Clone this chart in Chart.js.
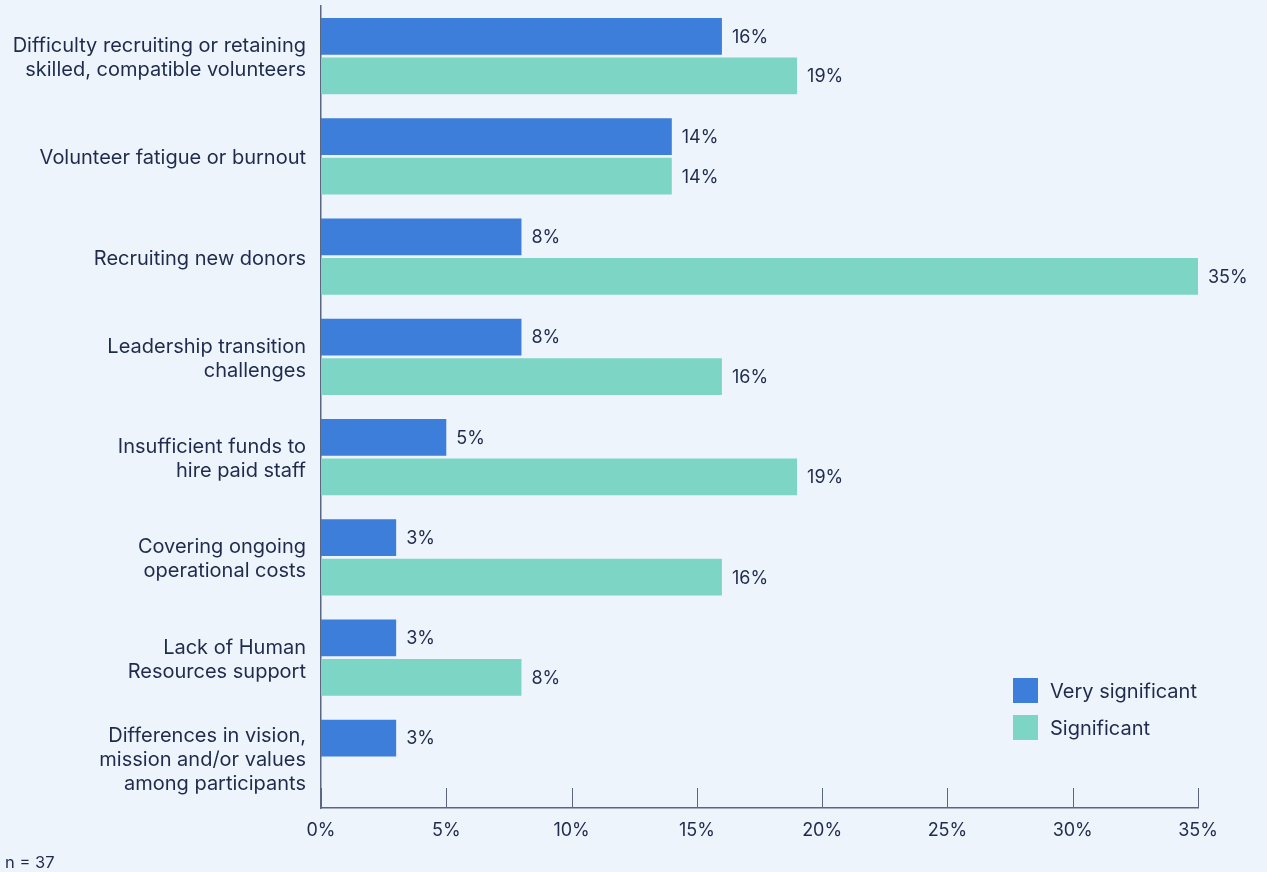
<!DOCTYPE html>
<html lang="en">
<head>
<meta charset="utf-8">
<title>Challenges faced</title>
<script src="https://cdn.jsdelivr.net/npm/chart.js@4.4.1/dist/chart.umd.min.js"></script>
<style>
    html, body {
        margin: 0;
        padding: 0;
        background: #eef4fc;
    }
    .chart-wrap {
        position: relative;
        width: 1267px;
        height: 872px;
    }
    .sample-note {
        position: absolute;
        left: 5px;
        top: 852px;
        font: 16.5px Inter, "Noto Sans", sans-serif;
        color: #1f2b4d;
    }
</style>
</head>
<body>
<div class="chart-wrap">
    <canvas id="challenges-chart" width="1267" height="872"></canvas>
    <div class="sample-note">n = 37</div>
</div>
<script>
// Challenges rated by respondents (percent of organisations)
const categories = [
    ['Difficulty recruiting or retaining', 'skilled, compatible volunteers'],
    'Volunteer fatigue or burnout',
    'Recruiting new donors',
    ['Leadership transition', 'challenges'],
    ['Insufficient funds to', 'hire paid staff'],
    ['Covering ongoing', 'operational costs'],
    ['Lack of Human', 'Resources support'],
    ['Differences in vision,', 'mission and/or values', 'among participants']
];
const verySignificant = [16, 14, 8, 8, 5, 3, 3, 3];
const significant = [19, 14, 35, 16, 19, 16, 8, null];
const xTicks = [0, 5, 10, 15, 20, 25, 30, 35];

const TEXT_COLOR = '#1f2b4d';
const AXIS_COLOR = '#5b6682';
const FONT_FAMILY = 'Inter, "Noto Sans", sans-serif';

document.addEventListener('DOMContentLoaded', function() {
    initChallengesChart();
});

// Short tick marks that point up from the x axis into the plot
const innerTicksPlugin = {
    id: 'innerTicks',
    afterDraw(chart) {
        const ctx = chart.ctx;
        const x = chart.scales.x;
        const bottom = chart.chartArea.bottom;
        ctx.save();
        ctx.strokeStyle = AXIS_COLOR;
        ctx.lineWidth = 1;
        xTicks.forEach(v => {
            const px = Math.round(x.getPixelForValue(v)) + 0.5;
            ctx.beginPath();
            ctx.moveTo(px, bottom);
            ctx.lineTo(px, bottom - 20);
            ctx.stroke();
        });
        ctx.restore();
    }
};

// Category names, right aligned against the y axis (multi-line)
const categoryLabelsPlugin = {
    id: 'categoryLabels',
    afterDraw(chart) {
        const ctx = chart.ctx;
        const y = chart.scales.y;
        const right = chart.chartArea.left - 15;
        const lineH = 24;
        ctx.save();
        ctx.font = '20px ' + FONT_FAMILY;
        ctx.fillStyle = TEXT_COLOR;
        ctx.textAlign = 'right';
        ctx.textBaseline = 'middle';
        chart.data.labels.forEach((label, i) => {
            const lines = Array.isArray(label) ? label : [label];
            const cy = y.getPixelForValue(i) + 2;
            const start = cy - (lines.length - 1) * lineH / 2;
            lines.forEach((line, k) => {
                ctx.fillText(line, right, start + k * lineH);
            });
        });
        ctx.restore();
    }
};

// Percent labels at the end of each bar
const valueLabelsPlugin = {
    id: 'valueLabels',
    afterDatasetsDraw(chart) {
        const ctx = chart.ctx;
        ctx.save();
        ctx.font = '18px ' + FONT_FAMILY;
        ctx.fillStyle = TEXT_COLOR;
        ctx.textAlign = 'left';
        ctx.textBaseline = 'middle';
        chart.data.datasets.forEach((ds, i) => {
            const meta = chart.getDatasetMeta(i);
            meta.data.forEach((bar, j) => {
                const v = ds.data[j];
                if (v === null || v === undefined) return;
                ctx.fillText(v + '%', bar.x + 10, bar.y + 1);
            });
        });
        ctx.restore();
    }
};

// Legend drawn inside the plot, lower right
const insideLegendPlugin = {
    id: 'insideLegend',
    afterDraw(chart) {
        const ctx = chart.ctx;
        const left = 1013;
        const top = 678;
        const box = 25;
        const rowGap = 37;
        ctx.save();
        ctx.font = '20px ' + FONT_FAMILY;
        ctx.textBaseline = 'middle';
        chart.data.datasets.forEach((ds, i) => {
            const y = top + i * rowGap;
            ctx.fillStyle = ds.backgroundColor;
            ctx.fillRect(left, y, box, box);
            ctx.fillStyle = TEXT_COLOR;
            ctx.fillText(ds.label, left + box + 12, y + box / 2 + 1);
        });
        ctx.restore();
    }
};

function initChallengesChart() {
    const canvas = document.getElementById('challenges-chart');
    if (!canvas) return;

    new Chart(canvas.getContext('2d'), {
        type: 'bar',
        data: {
            labels: categories,
            datasets: [
                {
                    label: 'Very significant',
                    data: verySignificant,
                    backgroundColor: '#3d7edb',
                    borderWidth: 0,
                    categoryPercentage: 0.79,
                    barPercentage: 0.93
                },
                {
                    label: 'Significant',
                    data: significant,
                    backgroundColor: '#7dd5c5',
                    borderWidth: 0,
                    categoryPercentage: 0.79,
                    barPercentage: 0.93
                }
            ]
        },
        options: {
            indexAxis: 'y',
            responsive: false,
            animation: false,
            layout: {
                padding: { top: 6, right: 69, left: 0, bottom: 0 }
            },
            plugins: {
                legend: { display: false },
                tooltip: { enabled: false }
            },
            scales: {
                x: {
                    min: 0,
                    max: 35,
                    afterBuildTicks: scale => {
                        scale.ticks = xTicks.map(v => ({ value: v }));
                    },
                    afterFit: scale => {
                        scale.height = 64;
                        scale.paddingLeft = 0;
                        scale.paddingRight = 0;
                    },
                    grid: { display: false, drawTicks: false },
                    border: { display: true, color: AXIS_COLOR, width: 1.5 },
                    ticks: {
                        padding: 12,
                        color: TEXT_COLOR,
                        font: { family: FONT_FAMILY, size: 18 },
                        callback: v => v + '%'
                    }
                },
                y: {
                    afterFit: scale => {
                        scale.width = 321;
                        scale.paddingTop = 0;
                        scale.paddingBottom = 0;
                    },
                    grid: { display: false, drawTicks: false },
                    border: { display: true, color: AXIS_COLOR, width: 1.5 },
                    ticks: { display: false }
                }
            }
        },
        plugins: [innerTicksPlugin, categoryLabelsPlugin, valueLabelsPlugin, insideLegendPlugin]
    });
}
</script>
</body>
</html>
